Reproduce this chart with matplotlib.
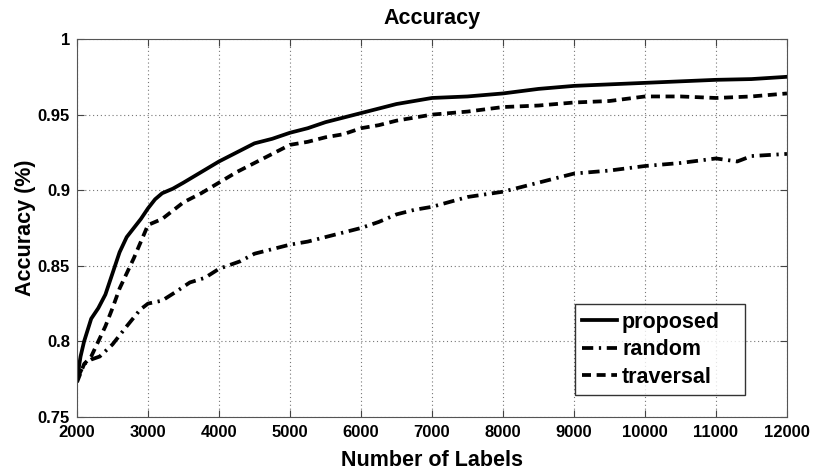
import matplotlib.pyplot as plt

plt.rcParams['font.family'] = ['Liberation Sans', 'DejaVu Sans']
plt.rcParams['font.weight'] = 'bold'

# number of labels for each series
x_prop = [2000, 2050, 2100, 2200, 2300, 2400, 2500, 2600, 2700, 2800, 2900, 3000, 3100, 3200,
          3350, 3500, 3750, 4000, 4250, 4500, 4750, 5000, 5250, 5500, 5750, 6000, 6250,
          6500, 6750, 7000, 7500, 8000, 8500, 9000, 9500, 10000, 10500, 11000, 11500, 12000]
y_prop = [0.775, 0.790, 0.800, 0.815, 0.822, 0.831, 0.845, 0.859, 0.869, 0.875, 0.881, 0.888,
          0.894, 0.898, 0.901, 0.905, 0.912, 0.919, 0.925, 0.931, 0.934, 0.938, 0.941, 0.945,
          0.948, 0.951, 0.954, 0.957, 0.959, 0.961, 0.962, 0.964, 0.967, 0.969, 0.970, 0.971,
          0.972, 0.973, 0.9735, 0.975]

x_trav = [2000, 2100, 2200, 2300, 2400, 2500, 2600, 2700, 2800, 2900, 3000, 3200, 3500, 3750,
          4000, 4250, 4500, 4750, 5000, 5250, 5500, 5750, 6000, 6250, 6500, 7000, 7500, 8000,
          8500, 9000, 9500, 10000, 10500, 11000, 11500, 12000]
y_trav = [0.773, 0.785, 0.790, 0.800, 0.810, 0.822, 0.835, 0.845, 0.855, 0.866, 0.877, 0.881,
          0.892, 0.898, 0.905, 0.912, 0.918, 0.924, 0.930, 0.932, 0.935, 0.937, 0.941, 0.943,
          0.946, 0.950, 0.952, 0.955, 0.956, 0.958, 0.959, 0.962, 0.962, 0.961, 0.962, 0.964]

x_rand = [2000, 2100, 2200, 2320, 2500, 2700, 2890, 3000, 3200, 3400, 3590, 3800, 4000, 4300,
          4500, 4750, 5000, 5250, 5500, 5750, 6000, 6250, 6500, 6750, 7000, 7500, 8000, 8500,
          9000, 9500, 10000, 10500, 11000, 11300, 11500, 12000]
y_rand = [0.775, 0.785, 0.788, 0.790, 0.798, 0.810, 0.821, 0.825, 0.827, 0.833, 0.839, 0.842,
          0.848, 0.853, 0.858, 0.861, 0.864, 0.866, 0.869, 0.872, 0.875, 0.879, 0.884, 0.887,
          0.889, 0.8955, 0.899, 0.905, 0.911, 0.913, 0.916, 0.918, 0.921, 0.919, 0.9226, 0.924]

xticks = list(range(2000, 12001, 1000))
yticks = [0.75, 0.8, 0.85, 0.9, 0.95, 1]
ytick_labels = ['0.75', '0.8', '0.85', '0.9', '0.95', '1']

fig = plt.figure(figsize=(8.14, 4.70), dpi=100)
ax = fig.add_axes([0.0946, 0.1128, 0.8722, 0.8042])

ax.plot(x_prop, y_prop, color='black', lw=2.7, ls='-', label='proposed')
ax.plot(x_rand, y_rand, color='black', lw=2.7, ls=(0, (3, 1.5, 0.6, 1.5)), label='random')
ax.plot(x_trav, y_trav, color='black', lw=2.7, ls=(0, (2.4, 1.5)), label='traversal')

ax.set_xlim(2000, 12000)
ax.set_ylim(0.75, 1)
ax.set_xticks(xticks)
ax.set_yticks(yticks)
ax.set_yticklabels(ytick_labels)
ax.tick_params(direction='in', length=5, labelsize=12, pad=5, top=True, right=True,
               color='#444444')
ax.tick_params(axis='x', pad=6)
for lab in ax.get_xticklabels() + ax.get_yticklabels():
    lab.set_fontweight('bold')
ax.grid(True, ls=(0, (1, 2.5)), color='#777777', lw=0.8)
for s in ax.spines.values():
    s.set_color('#555555')

ax.set_title('Accuracy', fontsize=15.5, fontweight='bold', pad=11)
ax.set_xlabel('Number of Labels', fontsize=15.5, fontweight='bold', labelpad=7)
ax.set_ylabel('Accuracy (%)', fontsize=15.5, fontweight='bold', labelpad=1)

leg = ax.legend(loc='lower left', bbox_to_anchor=(0.701, 0.058, 0.240, 0.241), mode='expand',
                fontsize=15.5, frameon=True, fancybox=False, edgecolor='black',
                handlelength=1.6, handletextpad=0.25, borderpad=0.35, labelspacing=0.3,
                borderaxespad=0)
leg.get_frame().set_linewidth(1.0)
for t in leg.get_texts():
    t.set_fontweight('bold')

fig.savefig('out.png', dpi=100)
